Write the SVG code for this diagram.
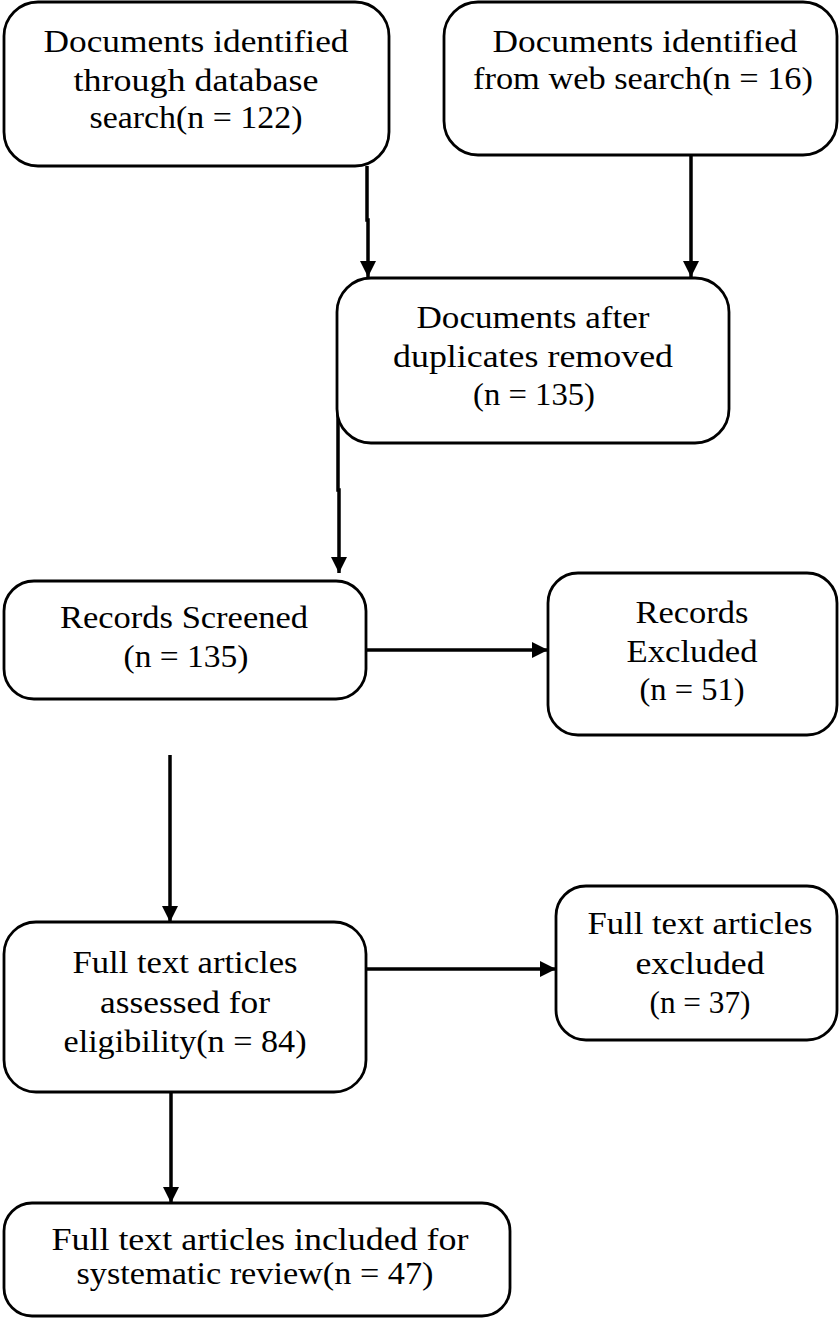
<svg xmlns="http://www.w3.org/2000/svg" width="839" height="1318" viewBox="0 0 839 1318">
<style>
.box{fill:#fff;stroke:#000;stroke-width:2.8}
.t{font-family:"Liberation Serif","Times New Roman",serif;font-size:32px;fill:#000;text-anchor:middle}
.c{fill:none;stroke:#000;stroke-width:3.5}
</style>
<defs>
<marker id="ah" markerUnits="userSpaceOnUse" markerWidth="17" markerHeight="16" refX="16" refY="8" orient="auto">
<path d="M0,0 L16,8 L0,16 Z" fill="#000"/>
</marker>
</defs>
<rect width="839" height="1318" fill="#fff"/>
<g id="connectors">
<path class="c" d="M367,166 V220 H368 V277" marker-end="url(#ah)"/>
<path class="c" d="M691,155 V277" marker-end="url(#ah)"/>
<path class="c" d="M338,412 V490 H339 V573" marker-end="url(#ah)"/>
<path class="c" d="M366,650 H548" marker-end="url(#ah)"/>
<path class="c" d="M170,755 V922" marker-end="url(#ah)"/>
<path class="c" d="M366,969 H556" marker-end="url(#ah)"/>
<path class="c" d="M171,1092 V1203" marker-end="url(#ah)"/>
</g>
<g id="n1">
<rect class="box" x="4" y="2" width="385" height="164" rx="34"/>
<text class="t" x="196" y="52" textLength="305" lengthAdjust="spacingAndGlyphs">Documents identified</text>
<text class="t" x="196" y="91" textLength="245" lengthAdjust="spacingAndGlyphs">through database</text>
<text class="t" x="196" y="128" textLength="213" lengthAdjust="spacingAndGlyphs">search(n = 122)</text>
</g>
<g id="n2">
<rect class="box" x="444" y="2" width="393" height="153" rx="34"/>
<text class="t" x="645" y="52" textLength="305" lengthAdjust="spacingAndGlyphs">Documents identified</text>
<text class="t" x="643" y="89" textLength="340" lengthAdjust="spacingAndGlyphs">from web search(n = 16)</text>
</g>
<g id="n3">
<rect class="box" x="337" y="278" width="392" height="165" rx="34"/>
<text class="t" x="533" y="328" textLength="233" lengthAdjust="spacingAndGlyphs">Documents after</text>
<text class="t" x="533" y="367" textLength="280" lengthAdjust="spacingAndGlyphs">duplicates removed</text>
<text class="t" x="534" y="405" textLength="122" lengthAdjust="spacingAndGlyphs">(n = 135)</text>
</g>
<g id="n4">
<rect class="box" x="4" y="581" width="362" height="118" rx="30"/>
<text class="t" x="184" y="628" textLength="248" lengthAdjust="spacingAndGlyphs">Records Screened</text>
<text class="t" x="186" y="667" textLength="125" lengthAdjust="spacingAndGlyphs">(n = 135)</text>
</g>
<g id="n5">
<rect class="box" x="548" y="573" width="289" height="162" rx="30"/>
<text class="t" x="692" y="623" textLength="113" lengthAdjust="spacingAndGlyphs">Records</text>
<text class="t" x="692" y="662" textLength="131" lengthAdjust="spacingAndGlyphs">Excluded</text>
<text class="t" x="692" y="700" textLength="105" lengthAdjust="spacingAndGlyphs">(n = 51)</text>
</g>
<g id="n6">
<rect class="box" x="4" y="922" width="362" height="170" rx="32"/>
<text class="t" x="185" y="973" textLength="225" lengthAdjust="spacingAndGlyphs">Full text articles</text>
<text class="t" x="185" y="1013" textLength="170" lengthAdjust="spacingAndGlyphs">assessed for</text>
<text class="t" x="185" y="1052" textLength="243" lengthAdjust="spacingAndGlyphs">eligibility(n = 84)</text>
</g>
<g id="n7">
<rect class="box" x="556" y="886" width="281" height="154" rx="30"/>
<text class="t" x="700" y="934" textLength="225" lengthAdjust="spacingAndGlyphs">Full text articles</text>
<text class="t" x="700" y="974" textLength="129" lengthAdjust="spacingAndGlyphs">excluded</text>
<text class="t" x="700" y="1013" textLength="101" lengthAdjust="spacingAndGlyphs">(n = 37)</text>
</g>
<g id="n8">
<rect class="box" x="4" y="1203" width="506" height="113" rx="28"/>
<text class="t" x="260" y="1250" textLength="417" lengthAdjust="spacingAndGlyphs">Full text articles included for</text>
<text class="t" x="255" y="1284" textLength="357" lengthAdjust="spacingAndGlyphs">systematic review(n = 47)</text>
</g>
</svg>
